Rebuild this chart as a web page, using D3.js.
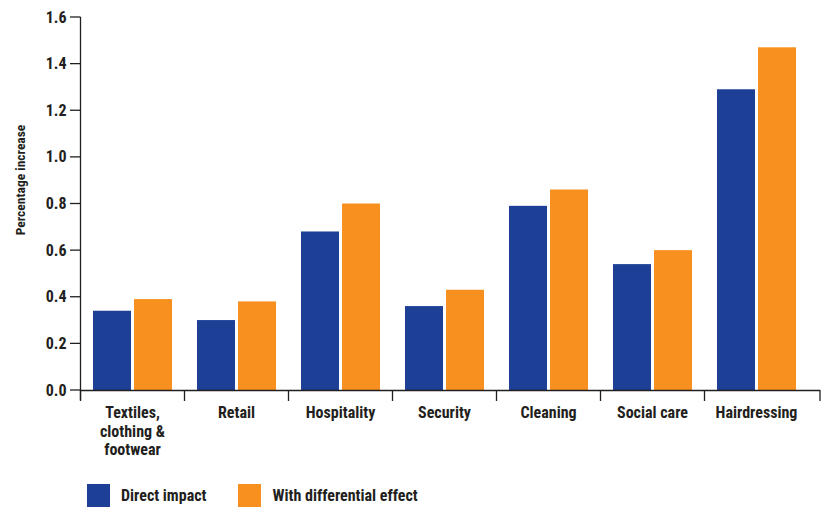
<!DOCTYPE html>
<html><head><meta charset="utf-8">
<script src="https://cdn.jsdelivr.net/npm/d3@7"></script>
<style>
body{margin:0;background:#fff;}
text{font-family:"Liberation Sans Narrow","Roboto Condensed","Arial Narrow",sans-serif;font-weight:bold;fill:#231f20;}
</style></head>
<body><svg id="c" width="823" height="508"></svg>
<script>
const categories = [["Textiles,","clothing &","footwear"],["Retail"],["Hospitality"],["Security"],["Cleaning"],["Social care"],["Hairdressing"]];
const seriesNames = ["Direct impact","With differential effect"];
const directImpact = [0.34,0.30,0.68,0.36,0.79,0.54,1.29];
const differentialEffect = [0.39,0.38,0.80,0.43,0.86,0.60,1.47];
const yTicks = [0,0.2,0.4,0.6,0.8,1.0,1.2,1.4,1.6];
const colors = ["#1d3f95","#f7901e"];

const svg = d3.select("#c");
const x0 = 80.5, bw = 104;
const x = d3.scaleBand().domain(d3.range(categories.length)).range([x0, x0 + bw*categories.length]).paddingInner(0).paddingOuter(0);
const y = d3.scaleLinear().domain([0,1.6]).range([390,17]);
const xs = d3.scaleBand().domain([0,1]).range([12.5, 12.5+80]).paddingInner(0.05);

const series = [directImpact, differentialEffect];
categories.forEach((c,i)=>{
  series.forEach((s,j)=>{
    svg.append("rect")
      .attr("x", x(i)+xs(j)).attr("width", 38)
      .attr("y", y(s[i])).attr("height", y(0)-y(s[i]))
      .attr("fill", colors[j]);
  });
});

// y axis
const ya = svg.append("g");
ya.append("line").attr("x1",80.5).attr("x2",80.5).attr("y1",y(1.6)).attr("y2",400).attr("stroke","#231f20").attr("stroke-width",1.3);
yTicks.forEach(t=>{
  ya.append("line").attr("x1",70).attr("x2",80.5).attr("y1",y(t)).attr("y2",y(t)).attr("stroke","#231f20").attr("stroke-width",1.3);
  ya.append("text").attr("x",66.5).attr("y",y(t)+5.5).attr("text-anchor","end").attr("font-size",16).text(d3.format(".1f")(t));
});
// x axis
const xa = svg.append("g");
xa.append("line").attr("x1",80.5).attr("x2",820).attr("y1",390.5).attr("y2",390.5).attr("stroke","#231f20").attr("stroke-width",1.3);
const tickXs = d3.range(categories.length).map(i=>x(i)).concat([820]);
tickXs.forEach(tx=>{
  xa.append("line").attr("x1",tx).attr("x2",tx).attr("y1",390).attr("y2",401).attr("stroke","#231f20").attr("stroke-width",1.3);
});
categories.forEach((c,i)=>{
  const t = xa.append("text").attr("text-anchor","middle").attr("font-size",16);
  c.forEach((line,k)=>{
    t.append("tspan").attr("x", x(i)+bw/2).attr("y", 418 + k*18.5).text(line);
  });
});

// y title
svg.append("text").attr("transform","translate(25,180) rotate(-90)").attr("text-anchor","middle").attr("font-size",13.5).text("Percentage increase");

// legend
const lg = [[87,121],[238,272.5]];
seriesNames.forEach((n,j)=>{
  svg.append("rect").attr("x",lg[j][0]).attr("y",484).attr("width",23).attr("height",23).attr("fill",colors[j]);
  svg.append("text").attr("x",lg[j][1]).attr("y",500.5).attr("font-size",16).text(n);
});
</script></body></html>
